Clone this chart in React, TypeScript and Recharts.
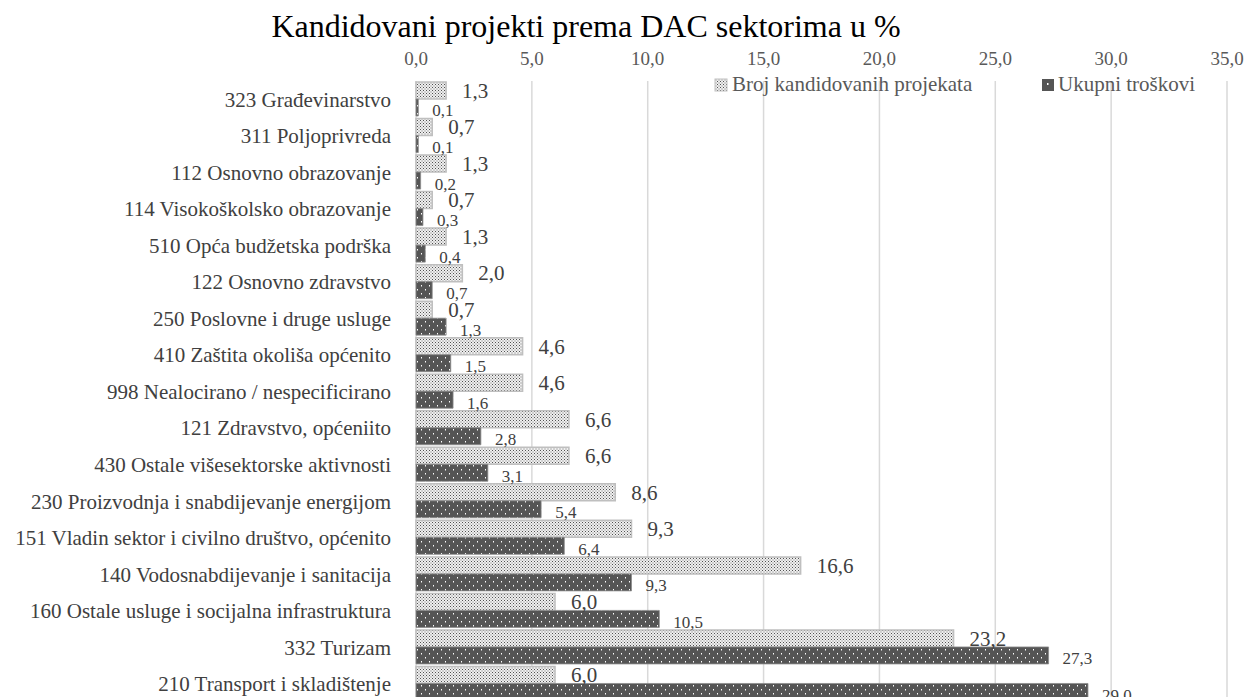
import React from 'react';
import { BarChart, Bar, XAxis, YAxis, CartesianGrid, LabelList } from 'recharts';

const categories = [
  '323 Građevinarstvo',
  '311 Poljoprivreda',
  '112 Osnovno obrazovanje',
  '114 Visokoškolsko obrazovanje',
  '510 Opća budžetska podrška',
  '122 Osnovno zdravstvo',
  '250 Poslovne i druge usluge',
  '410 Zaštita okoliša općenito',
  '998 Nealocirano / nespecificirano',
  '121 Zdravstvo, općeniito',
  '430 Ostale višesektorske aktivnosti',
  '230 Proizvodnja i snabdijevanje energijom',
  '151 Vladin sektor i civilno društvo, općenito',
  '140 Vodosnabdijevanje i sanitacija',
  '160 Ostale usluge i socijalna infrastruktura',
  '332 Turizam',
  '210 Transport i skladištenje',
];
const brojValues = [1.3, 0.7, 1.3, 0.7, 1.3, 2.0, 0.7, 4.6, 4.6, 6.6, 6.6, 8.6, 9.3, 16.6, 6.0, 23.2, 6.0];
const ukupniValues = [0.1, 0.1, 0.2, 0.3, 0.4, 0.7, 1.3, 1.5, 1.6, 2.8, 3.1, 5.4, 6.4, 9.3, 10.5, 27.3, 29.0];
const xTicks = [0, 5, 10, 15, 20, 25, 30, 35];
const seriesNames = ['Broj kandidovanih projekata', 'Ukupni troškovi'];
const title = 'Kandidovani projekti prema DAC sektorima u %';

const data = categories.map((name, i) => ({ name, broj: brojValues[i], ukupni: ukupniValues[i] }));

const fmt = (v: number) => v.toFixed(1).replace('.', ',');
const FONT = "'Liberation Serif', 'Times New Roman', serif";

const BrojLabel = (props: any) => {
  const { x, y, width, height, value } = props;
  return (
    <text x={Number(x) + Number(width) + 16} y={Number(y) + Number(height) / 2} dy="0.35em" fontSize={21} fill="#404040" fontFamily={FONT}>
      {fmt(Number(value))}
    </text>
  );
};
const UkupniLabel = (props: any) => {
  const { x, y, width, height, value } = props;
  return (
    <text x={Number(x) + Number(width) + 14} y={Number(y) + Number(height) / 2 + 3} dy="0.35em" fontSize={17} fill="#404040" fontFamily={FONT}>
      {fmt(Number(value))}
    </text>
  );
};

const XTick = (props: any) => {
  const { x, payload } = props;
  return (
    <text x={x} y={65} textAnchor="middle" fontSize={19} fill="#595959" fontFamily={FONT}>
      {fmt(Number(payload.value))}
    </text>
  );
};

export default function App() {
  return (
    <div style={{ position: 'relative', width: 1244, height: 697, overflow: 'hidden', background: '#fff' }}>
      <style>{`body{margin:0;overflow:hidden;}`}</style>
      <BarChart
        width={1244}
        height={702}
        data={data}
        layout="vertical"
        margin={{ top: 51, right: 17, bottom: 0, left: 0 }}
        barCategoryGap={1}
        barGap={0}
      >
        <CartesianGrid horizontal={false} vertical={true} stroke="#d9d9d9" strokeWidth={1.5} />
        <XAxis
          type="number"
          orientation="top"
          domain={[0, 35]}
          ticks={xTicks}
          height={30}
          axisLine={false}
          tickLine={false}
          tick={<XTick />}
          interval={0}
        />
        <YAxis
          type="category"
          dataKey="name"
          width={416}
          axisLine={false}
          tickLine={false}
          tickSize={6}
          tickMargin={19}
          interval={0}
          tick={{ fontSize: 21, fill: '#404040', fontFamily: FONT }}
        />
        <Bar dataKey="broj" name={seriesNames[0]} fill="url(#patLight)" stroke="#bfbfbf" strokeWidth={1.5} isAnimationActive={false}>
          <LabelList dataKey="broj" content={<BrojLabel />} />
        </Bar>
        <Bar dataKey="ukupni" name={seriesNames[1]} fill="url(#patDark)" stroke="#8c8c8c" strokeWidth={0.8} isAnimationActive={false}>
          <LabelList dataKey="ukupni" content={<UkupniLabel />} />
        </Bar>
      </BarChart>
      <svg width={1244} height={697} style={{ position: 'absolute', left: 0, top: 0, pointerEvents: 'none' }}>
        <defs>
          <pattern id="patLight" width={3} height={3} patternUnits="userSpaceOnUse">
            <rect width={3} height={3} fill="#f0f0f0" />
            <rect x={0} y={0} width={1} height={1} fill="#505050" />
            <rect x={1.5} y={1.5} width={1} height={1} fill="#707070" />
          </pattern>
          <pattern id="patDark" width={8} height={8} patternUnits="userSpaceOnUse">
            <rect width={8} height={8} fill="#555555" />
            <rect x={1} y={1} width={1} height={1.5} fill="#ffffff" />
            <rect x={5} y={5} width={1} height={1.5} fill="#ffffff" />
          </pattern>
        </defs>
        <text x={586} y={37} textAnchor="middle" fontSize={32} fill="#000" fontFamily={FONT}>{title}</text>
        <rect x={715} y={79} width={12} height={12} fill="url(#patLight)" stroke="#bfbfbf" strokeWidth={1} />
        <text x={732} y={91} fontSize={21} fill="#595959" fontFamily={FONT}>{seriesNames[0]}</text>
        <rect x={1042} y={79} width={12} height={12} fill="#555" />
        <rect x={1047} y={83} width={1.5} height={2} fill="#fff" />
        <text x={1058} y={91} fontSize={21} fill="#595959" fontFamily={FONT}>{seriesNames[1]}</text>
      </svg>
    </div>
  );
}
